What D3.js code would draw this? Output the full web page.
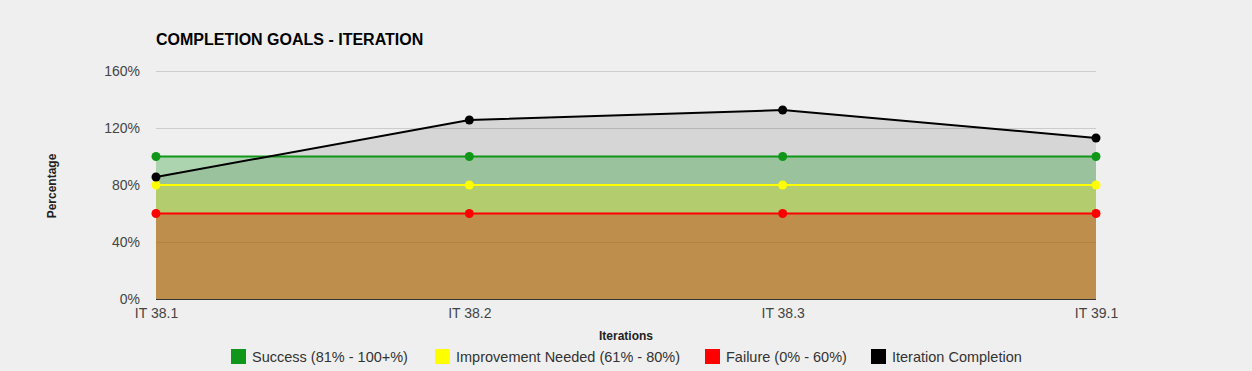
<!DOCTYPE html>
<html>
<head>
<meta charset="utf-8">
<script src="https://cdn.jsdelivr.net/npm/d3@7"></script>
<style>
body { margin:0; background:#efefef; font-family:"Liberation Sans", Arial, sans-serif; }
.grid line { stroke:#cccccc; }
.tick text { fill:#444; font-size:14px; }
</style>
</head>
<body>
<svg id="chart" width="1252" height="371"></svg>
<script>
// chart data
var iterations = ["IT 38.1", "IT 38.2", "IT 38.3", "IT 39.1"];
var successGoal = [100, 100, 100, 100];
var improvementGoal = [80, 80, 80, 80];
var failureGoal = [60, 60, 60, 60];
var completion = [85.6, 125.6, 132.6, 113];
var yTicks = [0, 40, 80, 120, 160];

var series = [
    {name:"Iteration Completion", values:completion, color:"#000000", fill:"#000000", op:0.1},
    {name:"Success (81% - 100+%)", values:successGoal, color:"#109618", fill:"#109618", op:0.3},
    {name:"Improvement Needed (61% - 80%)", values:improvementGoal, color:"#ffff00", fill:"#f0e600", op:0.3},
    {name:"Failure (0% - 60%)", values:failureGoal, color:"#ff0000", fill:"#d80000", op:0.3}
];
var legendOrder = [1, 2, 3, 0];

var svg = d3.select("#chart");
var plotLeft = 156, plotRight = 1096, plotTop = 71, plotBottom = 299;

var xScale = d3.scalePoint().domain(iterations).range([plotLeft, plotRight]);
var yScale = d3.scaleLinear().domain([0, 160]).range([plotBottom, plotTop]);

// title
svg.append("text")
    .attr("x", 156).attr("y", 45)
    .style("font-size", "16px").style("font-weight", "bold")
    .text("COMPLETION GOALS - ITERATION");

// gridlines
svg.append("g")
    .attr("class", "grid")
    .selectAll("line")
    .data(yTicks)
    .enter().append("line")
    .attr("x1", plotLeft).attr("x2", plotRight)
    .attr("y1", function(d){ return yScale(d) + 0.5; })
    .attr("y2", function(d){ return yScale(d) + 0.5; });

var area = d3.area()
    .x(function(d, i){ return xScale(iterations[i]); })
    .y0(yScale(0))
    .y1(function(d){ return yScale(d); });

var line = d3.line()
    .x(function(d, i){ return xScale(iterations[i]); })
    .y(function(d){ return yScale(d); });

series.forEach(function(s){
    svg.append("path")
        .attr("d", area(s.values))
        .attr("fill", s.fill)
        .attr("fill-opacity", s.op);
});

// baseline
svg.append("line")
    .attr("x1", plotLeft).attr("x2", plotRight)
    .attr("y1", plotBottom + 0.5).attr("y2", plotBottom + 0.5)
    .attr("stroke", "#333").attr("stroke-width", 1);

// lines and points, goals first, completion on top
[1, 2, 3, 0].forEach(function(k){
    var s = series[k];
    svg.append("path")
        .attr("d", line(s.values))
        .attr("fill", "none")
        .attr("stroke", s.color)
        .attr("stroke-width", 2);
    svg.append("g").selectAll("circle")
        .data(s.values)
        .enter().append("circle")
        .attr("cx", function(d, i){ return xScale(iterations[i]); })
        .attr("cy", function(d){ return yScale(d); })
        .attr("r", 4.5)
        .attr("fill", s.color);
});

// y axis
var yAxis = d3.axisLeft(yScale)
    .tickValues(yTicks)
    .tickSize(0)
    .tickPadding(16)
    .tickFormat(function(d){ return d + "%"; });
svg.append("g")
    .attr("transform", "translate(" + plotLeft + ",0)")
    .call(yAxis)
    .call(function(g){ g.select(".domain").remove(); });

// x axis
var xAxis = d3.axisBottom(xScale).tickSize(0).tickPadding(9);
svg.append("g")
    .attr("transform", "translate(0," + plotBottom + ")")
    .call(xAxis)
    .call(function(g){ g.select(".domain").remove(); });

// axis titles
svg.append("text")
    .attr("x", (plotLeft + plotRight) / 2).attr("y", 340)
    .attr("text-anchor", "middle")
    .style("font-size", "12px").style("font-weight", "bold").style("fill", "#222")
    .text("Iterations");

svg.append("text")
    .attr("transform", "translate(56,186) rotate(-90)")
    .attr("text-anchor", "middle")
    .style("font-size", "12px").style("font-weight", "bold").style("fill", "#222")
    .text("Percentage");

// legend
var legendX = [231, 435, 705, 871];
var legend = svg.append("g").selectAll("g")
    .data(legendOrder)
    .enter().append("g")
    .attr("transform", function(d, i){ return "translate(" + legendX[i] + ",349)"; });
legend.append("rect")
    .attr("width", 15).attr("height", 15)
    .attr("fill", function(d){ return series[d].color; });
legend.append("text")
    .attr("x", 21).attr("y", 13)
    .style("font-size", "14.5px").style("fill", "#333")
    .text(function(d){ return series[d].name; });
</script>
</body>
</html>
